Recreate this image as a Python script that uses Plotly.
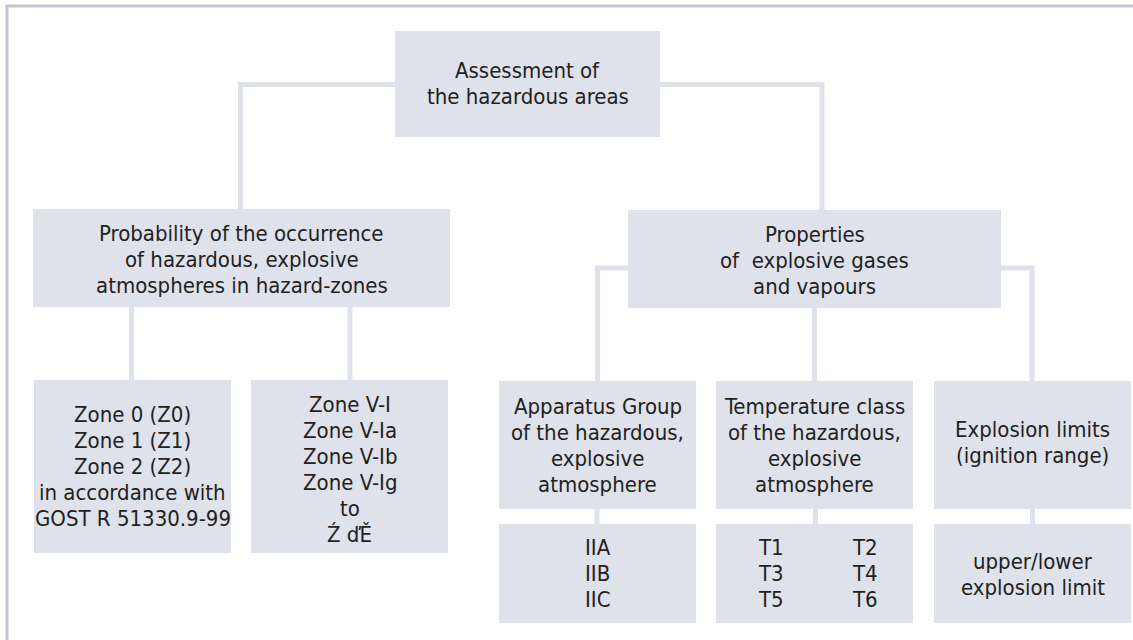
import plotly.graph_objects as go

# ---- diagram content (text of each node, one entry per line) ----
top_label = ["Assessment of", "the hazardous areas"]
prob_label = ["Probability of the occurrence", "of hazardous, explosive", "atmospheres in hazard-zones"]
props_label = ["Properties", "of  explosive gases", "and vapours"]
zone_gost_label = ["Zone 0 (Z0)", "Zone 1 (Z1)", "Zone 2 (Z2)", "in accordance with", "GOST R 51330.9-99"]
zone_v_label = ["Zone V-I", "Zone V-Ia", "Zone V-Ib", "Zone V-Ig", "to", "Ź ďĚ"]
apparatus_label = ["Apparatus Group", "of the hazardous,", "explosive", "atmosphere"]
temperature_label = ["Temperature class", "of the hazardous,", "explosive", "atmosphere"]
explosion_label = ["Explosion limits", "(ignition range)"]
groups_label = ["IIA", "IIB", "IIC"]
tclass_left = ["T1", "T3", "T5"]
tclass_right = ["T2", "T4", "T6"]
limit_label = ["upper/lower", "explosion limit"]

# ---- layout geometry (pixels, y downward) ----
W, H = 1133, 640
BOX = {
    "top": (395, 660, 31, 137),
    "prob": (33, 450, 209, 307),
    "props": (628, 1001, 210, 308),
    "zone0": (34, 231, 380, 553),
    "zonev": (251, 448, 380, 553),
    "app": (499, 696, 381, 509),
    "temp": (716, 913, 381, 509),
    "expl": (934, 1131, 381, 509),
    "grp": (499, 696, 524, 623),
    "tcls": (716, 913, 524, 623),
    "lim": (934, 1131, 524, 623),
}
CONNECTORS = [
    [(240.5, 209), (240.5, 84.5), (822, 84.5), (822, 210)],
    [(131.5, 307), (131.5, 380)],
    [(350, 307), (350, 380)],
    [(597.5, 381), (597.5, 268), (628, 268)],
    [(1001, 268), (1032, 268), (1032, 381)],
    [(814.5, 308), (814.5, 381)],
    [(597, 509), (597, 524)],
    [(815.5, 509), (815.5, 524)],
    [(1032.5, 509), (1032.5, 524)],
]

FILL = "#dfe1eb"
LINE = "#dfe1eb"
BORDER = "#c2c3d5"
TEXT = "#231f20"
FONT = "DejaVu Sans Condensed, Liberation Sans Narrow, Arial Narrow, sans-serif"
FSIZE = 22
LSP = 26

fig = go.Figure()
shapes = []
# outer frame (left + top)
shapes.append(dict(type="path", path=f"M 7 {H} L 7 6 L {W} 6",
                   line=dict(color=BORDER, width=3), xref="x", yref="y"))
for pts in CONNECTORS:
    p = "M " + " L ".join(f"{x} {y}" for x, y in pts)
    shapes.append(dict(type="path", path=p, line=dict(color=LINE, width=5),
                       xref="x", yref="y"))
for k, (x0, x1, y0, y1) in BOX.items():
    shapes.append(dict(type="rect", x0=x0, x1=x1, y0=y0, y1=y1,
                       fillcolor=FILL, line=dict(width=0), xref="x", yref="y"))

annotations = []


def add_lines(lines, cx, cy, xanchor="center"):
    n = len(lines)
    for i, t in enumerate(lines):
        y = cy + (i - (n - 1) / 2) * LSP
        annotations.append(dict(x=cx, y=y, text=t, showarrow=False, xref="x", yref="y",
                                xanchor=xanchor, yanchor="middle",
                                font=dict(family=FONT, size=FSIZE, color=TEXT)))


def center(k):
    x0, x1, y0, y1 = BOX[k]
    return (x0 + x1) / 2, (y0 + y1) / 2


add_lines(top_label, center("top")[0], 83)
add_lines(prob_label, center("prob")[0], 259)
add_lines(props_label, center("props")[0], 260)
add_lines(zone_gost_label, *center("zone0"))
add_lines(zone_v_label, center("zonev")[0], 469)
add_lines(apparatus_label, *center("app"))
add_lines(temperature_label, *center("temp"))
add_lines(explosion_label, center("expl")[0], 442)
add_lines(groups_label, *center("grp"))
add_lines(tclass_left, 756, center("tcls")[1], xanchor="left")
add_lines(tclass_right, 850, center("tcls")[1], xanchor="left")
add_lines(limit_label, center("lim")[0], 574)

fig.update_layout(
    width=W, height=H,
    margin=dict(l=0, r=0, t=0, b=0),
    paper_bgcolor="white", plot_bgcolor="white",
    xaxis=dict(range=[0, W], visible=False, fixedrange=True),
    yaxis=dict(range=[H, 0], visible=False, fixedrange=True),
    shapes=shapes, annotations=annotations, showlegend=False,
)
fig.write_html("out.html", config={"displayModeBar": False},
               post_script="document.body.style.margin='0';document.body.style.overflow='hidden';")
